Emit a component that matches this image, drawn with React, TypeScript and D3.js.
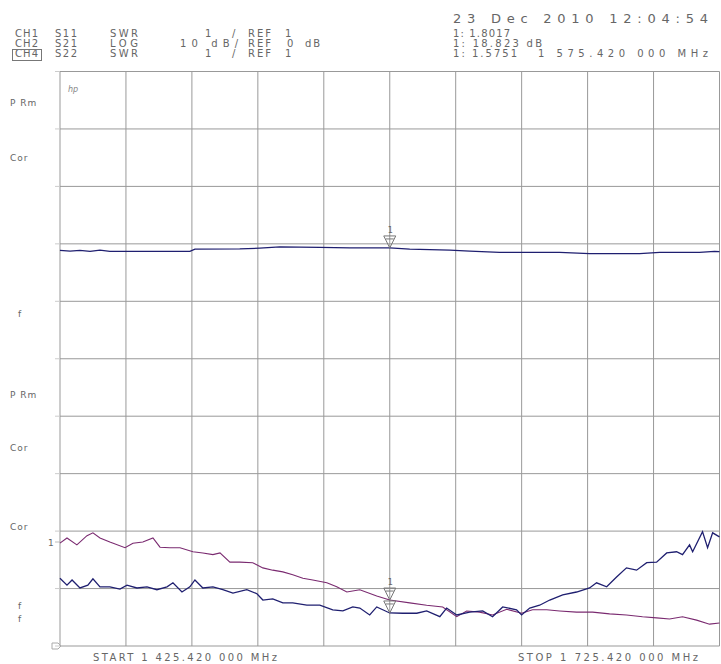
import React from "react";
import * as d3 from "d3";

// frequency sweep, MHz
const START_MHZ = 1425.42;
const STOP_MHZ = 1725.42;
const MARKER_MHZ = 1575.42;

// CH2 S21 (LOG, dB)
const s21Freq = [1425.4, 1430.0, 1434.5, 1439.1, 1443.6, 1448.1, 1466.3, 1484.5, 1486.8, 1507.2, 1516.3, 1525.4, 1543.6, 1557.3, 1575.4, 1584.5, 1593.6, 1602.7, 1611.8, 1625.4, 1652.7, 1666.3, 1689.1, 1698.2, 1716.3, 1723.2, 1725.4];
const s21Db = [18.87, 18.73, 18.87, 18.69, 18.9, 18.69, 18.69, 18.69, 19.08, 19.11, 19.25, 19.46, 19.37, 19.29, 19.29, 19.08, 18.99, 18.9, 18.73, 18.52, 18.52, 18.29, 18.29, 18.52, 18.52, 18.69, 18.64];

// CH1 S11 (SWR) – purple trace
const s11Freq = [1425.4, 1428.6, 1433.1, 1437.7, 1440.4, 1443.6, 1448.1, 1455.0, 1458.6, 1463.1, 1467.7, 1470.9, 1475.4, 1480.0, 1485.9, 1490.4, 1495.0, 1498.2, 1502.7, 1507.2, 1513.1, 1517.7, 1522.2, 1526.8, 1531.3, 1535.9, 1540.4, 1546.8, 1551.3, 1555.9, 1561.8, 1569.5, 1575.4, 1584.5, 1592.2, 1599.5, 1605.9, 1610.4, 1616.3, 1622.2, 1628.6, 1635.4, 1640.4, 1646.8, 1652.7, 1660.4, 1667.7, 1675.4, 1683.1, 1690.4, 1696.8, 1702.7, 1708.6, 1715.0, 1720.9, 1725.4];
const s11Swr = [2.79, 2.88, 2.76, 2.92, 2.97, 2.88, 2.81, 2.71, 2.79, 2.81, 2.88, 2.72, 2.71, 2.71, 2.64, 2.62, 2.59, 2.62, 2.46, 2.46, 2.45, 2.36, 2.32, 2.29, 2.24, 2.18, 2.15, 2.1, 2.03, 1.94, 1.98, 1.87, 1.8, 1.75, 1.71, 1.68, 1.51, 1.61, 1.59, 1.54, 1.64, 1.57, 1.63, 1.63, 1.61, 1.59, 1.59, 1.56, 1.54, 1.51, 1.49, 1.47, 1.51, 1.45, 1.38, 1.4];

// CH4 S22 (SWR) – blue trace
const s22Freq = [1425.4, 1428.6, 1430.9, 1434.5, 1438.1, 1440.4, 1443.6, 1448.1, 1452.7, 1455.9, 1460.4, 1465.0, 1469.5, 1474.1, 1476.8, 1480.9, 1484.5, 1486.8, 1490.4, 1495.0, 1499.5, 1504.1, 1510.4, 1515.0, 1517.7, 1522.2, 1526.8, 1531.3, 1537.7, 1543.6, 1549.5, 1554.1, 1558.6, 1561.8, 1566.3, 1569.5, 1575.4, 1581.3, 1587.7, 1592.2, 1598.2, 1601.3, 1605.9, 1611.8, 1617.7, 1622.2, 1626.8, 1633.1, 1635.4, 1639.1, 1643.6, 1648.2, 1654.1, 1660.4, 1666.3, 1669.5, 1674.1, 1678.6, 1683.1, 1687.7, 1692.3, 1696.8, 1701.4, 1705.9, 1708.6, 1711.8, 1713.2, 1717.7, 1720.0, 1722.3, 1725.4];
const s22Swr = [2.18, 2.06, 2.15, 2.01, 2.06, 2.17, 2.03, 2.03, 1.99, 2.06, 2.01, 2.03, 1.98, 2.03, 2.1, 1.94, 2.03, 2.15, 2.01, 2.03, 1.98, 1.92, 1.98, 1.91, 1.8, 1.82, 1.75, 1.75, 1.71, 1.71, 1.63, 1.61, 1.68, 1.66, 1.54, 1.68, 1.575, 1.57, 1.57, 1.61, 1.51, 1.66, 1.54, 1.59, 1.61, 1.51, 1.68, 1.63, 1.54, 1.66, 1.71, 1.8, 1.89, 1.94, 2.01, 2.1, 2.03, 2.2, 2.36, 2.32, 2.45, 2.46, 2.62, 2.64, 2.59, 2.76, 2.64, 2.99, 2.71, 2.97, 2.9];

const headerLeft = [
  ["CH1", "S11", "SWR", "1", "/", "REF", "1", ""],
  ["CH2", "S21", "LOG", "10 dB/", "", "REF", "0", "dB"],
  ["CH4", "S22", "SWR", "1", "/", "REF", "1", ""],
];
const markerReadouts = ["1: 1.8017", "1: 18.823 dB", "1: 1.5751"];
const sideLabels = [
  { t: "P Rm", y: 106 }, { t: "Cor", y: 161 }, { t: "f", y: 317 },
  { t: "P Rm", y: 398 }, { t: "Cor", y: 451 }, { t: "Cor", y: 530 },
];

const W = 721;
const H = 664;
const L = 60, R = 719.5, T = 71.5, B = 646;
const TXT = "#666";
const FONT = "'DejaVu Sans', sans-serif";

export default function App() {
  const x = d3.scaleLinear().domain([START_MHZ, STOP_MHZ]).range([L, R]);
  const yDb = d3.scaleLinear().domain([-50, 50]).range([B, T]);
  const ySwr = d3.scaleLinear().domain([1, 11]).range([B, T]);
  const gx = d3.scaleLinear().domain([0, 10]).range([L, R]);
  const gy = d3.scaleLinear().domain([0, 10]).range([T, B]);

  const lineDb = d3.line<number>().x((_, i) => x(s21Freq[i])).y((d) => yDb(d));
  const lineS11 = d3.line<number>().x((_, i) => x(s11Freq[i])).y((d) => ySwr(d));
  const lineS22 = d3.line<number>().x((_, i) => x(s22Freq[i])).y((d) => ySwr(d));

  const mx = x(MARKER_MHZ);
  const mS21 = yDb(s21Db[s21Freq.indexOf(1575.4)]);
  const mS11 = ySwr(s11Swr[s11Freq.indexOf(1575.4)]);
  const mS22 = ySwr(s22Swr[s22Freq.indexOf(1575.4)]);

  const tri = (ax: number, ay: number) =>
    `M${ax - 6},${ay - 12} L${ax + 6},${ay - 12} L${ax},${ay} Z M${ax - 4},${ay - 9} L${ax + 4},${ay - 9}`;

  const colX = [15, 55, 110, 0, 232, 248, 285, 305];
  const colLen = [23, 22, 28, 0, 0, 23, 0, 15];

  return (
    <svg width={W} height={H} style={{ position: "absolute", left: 0, top: 0, background: "#fff" }} fontFamily={FONT}>
      {/* header */}
      <text x={453} y={23} fontSize={13} fill={TXT} textLength={255} lengthAdjust="spacing">23 Dec 2010  12:04:54</text>
      {headerLeft.map((row, r) => (
        <g key={r}>
          {row.map((tok, c) => {
            if (!tok) return null;
            const y = 37 + r * 10;
            if (c === 3) {
              return tok.length > 1 ? (
                <text key={c} x={180} y={y} fontSize={10} fill={TXT} textLength={58} lengthAdjust="spacing">{tok}</text>
              ) : (
                <text key={c} x={205} y={y} fontSize={10} fill={TXT}>{tok}</text>
              );
            }
            const x0 = c === 6 && r === 1 ? 287 : colX[c];
            return (
              <text key={c} x={x0} y={y} fontSize={10} fill={TXT}
                textLength={colLen[c] || undefined} lengthAdjust="spacing">{tok}</text>
            );
          })}
        </g>
      ))}
      <rect x={12.5} y={49.5} width={29} height={11} fill="none" stroke="#777" strokeWidth={1} />
      {markerReadouts.map((t, i) => (
        <text key={t} x={453} y={37 + i * 10} fontSize={10} fill={TXT}
          textLength={[57, 89, 64][i]} lengthAdjust="spacing">{t}</text>
      ))}
      <text x={538} y={57} fontSize={10} fill={TXT} textLength={170} lengthAdjust="spacing">1 575.420 000 MHz</text>

      {/* grid */}
      {d3.range(11).map((i) => (
        <line key={"v" + i} x1={gx(i)} x2={gx(i)} y1={T} y2={B} stroke="#999" strokeWidth={1} />
      ))}
      {d3.range(11).map((i) => (
        <g key={"h" + i}>
          <line x1={L} x2={R} y1={gy(i)} y2={gy(i)} stroke="#999" strokeWidth={1} />
          <line x1={L - 5} x2={L} y1={gy(i)} y2={gy(i)} stroke="#ccc" strokeWidth={1} />
        </g>
      ))}

      {/* side annotations */}
      <text x={68} y={92} fontSize={8} fontStyle="italic" fill="#888">hp</text>
      {sideLabels.map((s, i) => (
        <text key={i} x={s.t === "f" ? 18 : 10} y={s.y} fontSize={9} fill={TXT} letterSpacing={1}>{s.t}</text>
      ))}
      <text x={18} y={609} fontSize={9} fill={TXT}>f</text>
      <text x={18} y={622} fontSize={9} fill={TXT}>f</text>
      <text x={48} y={546} fontSize={9} fill={TXT}>1</text>
      <line x1={55} x2={60} y1={542} y2={542} stroke="#bbb" />
      <path d={`M52,643 L58,643 L61,646 L58,649 L52,649 Z`} fill="none" stroke="#aaa" strokeWidth={1} />

      {/* traces */}
      <path d={lineDb(s21Db) ?? ""} fill="none" stroke="#1f1f70" strokeWidth={1.3} />
      <path d={lineS11(s11Swr) ?? ""} fill="none" stroke="#7a2a70" strokeWidth={1.1} />
      <path d={lineS22(s22Swr) ?? ""} fill="none" stroke="#1f1f70" strokeWidth={1.3} />

      {/* markers */}
      <text x={mx - 2} y={mS21 - 15} fontSize={8} fill={TXT}>1</text>
      <path d={tri(mx, mS21)} fill="none" stroke="#777" strokeWidth={1} />
      <text x={mx - 2} y={mS11 - 15} fontSize={8} fill={TXT}>1</text>
      <path d={tri(mx, mS11)} fill="none" stroke="#777" strokeWidth={1} />
      <path d={tri(mx, mS22)} fill="none" stroke="#777" strokeWidth={1} />

      {/* footer */}
      <text x={93} y={661} fontSize={10} fill={TXT} textLength={184} lengthAdjust="spacing">START 1 425.420 000 MHz</text>
      <text x={518} y={661} fontSize={10} fill={TXT} textLength={180} lengthAdjust="spacing">STOP 1 725.420 000 MHz</text>
    </svg>
  );
}
